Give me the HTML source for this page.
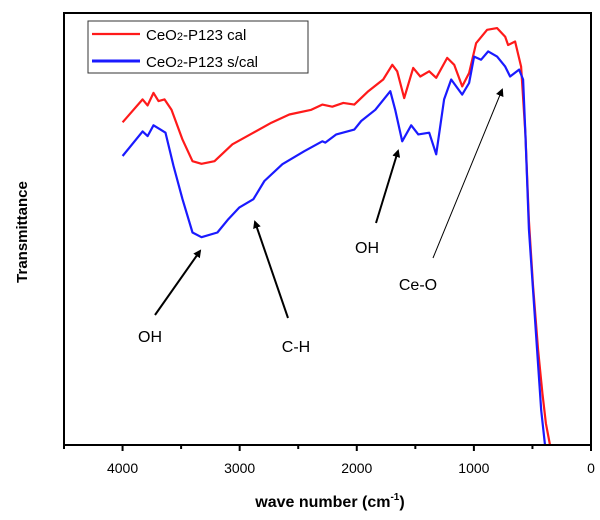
<!DOCTYPE html>
<html><head><meta charset="utf-8"><style>
body{margin:0;background:#fff;width:600px;height:515px;overflow:hidden}
svg text{font-family:"Liberation Sans",Arial,sans-serif}
</style></head><body>
<svg id="chart" width="600" height="515" xmlns="http://www.w3.org/2000/svg">
<defs><marker id="ah" markerWidth="8" markerHeight="8" refX="6" refY="4" orient="auto" markerUnits="userSpaceOnUse"><path d="M0,0 L8,4 L0,8 z" fill="#000"/></marker></defs>
<g id="plot"></g>
<g><text x="330" y="507" text-anchor="middle" font-size="16" font-weight="bold">wave number (cm<tspan font-size="10" dy="-7">-1</tspan><tspan dy="7">)</tspan></text></g>
<text transform="translate(27,232) rotate(-90)" text-anchor="middle" font-size="15" font-weight="bold">Transmittance</text>
<g>
<rect x="88" y="21" width="220" height="52" fill="#fff" stroke="#333" stroke-width="1"/>
<line x1="92" y1="34" x2="140" y2="34" stroke="#ff1a1a" stroke-width="2.2"/>
<text x="146" y="40" font-size="15">CeO<tspan font-size="11">2</tspan>-P123 cal</text>
<line x1="92" y1="61" x2="140" y2="61" stroke="#1a1aff" stroke-width="3"/>
<text x="146" y="67" font-size="15">CeO<tspan font-size="11">2</tspan>-P123 s/cal</text>
</g>
<g>
<line x1="155" y1="315" x2="200" y2="251" stroke="#000" stroke-width="2" marker-end="url(#ah)"/>
<text x="150" y="342" font-size="16" text-anchor="middle">OH</text>
<line x1="288" y1="318" x2="255" y2="222" stroke="#000" stroke-width="2" marker-end="url(#ah)"/>
<text x="296" y="352" font-size="16" text-anchor="middle">C-H</text>
<line x1="376" y1="223" x2="398" y2="151" stroke="#000" stroke-width="2" marker-end="url(#ah)"/>
<text x="367" y="253" font-size="16" text-anchor="middle">OH</text>
<line x1="433" y1="258" x2="502" y2="90" stroke="#000" stroke-width="1" marker-end="url(#ah)"/>
<text x="418" y="290" font-size="16" text-anchor="middle">Ce-O</text>
</g>
</svg>
<script>
const redWn=[4000,3829,3786,3736,3693,3642,3582,3488,3403,3326,3215,3062,2883,2729,2576,2388,2294,2209,2115,2021,1902,1774,1697,1655,1595,1518,1458,1382,1322,1228,1168,1100,1041,981,887,802,733,708,648,597,560,530,495,452,415,385,350];
const redT=[74.7,80.0,78.6,81.5,79.6,80.0,77.6,70.7,65.7,65.1,65.7,69.6,72.3,74.6,76.5,77.6,78.8,78.3,79.2,78.8,81.9,84.6,88.0,86.5,80.3,87.3,85.3,86.5,85.0,89.6,88.0,83.0,86.1,93.0,96.1,96.5,94.5,92.6,93.4,87.6,72.0,52.0,37.0,22.0,12.0,5.0,0];
const blueWn=[4000,3829,3786,3736,3676,3633,3565,3488,3403,3326,3190,3096,3002,2883,2789,2635,2448,2294,2269,2175,2021,1962,1842,1714,1672,1612,1535,1475,1382,1322,1254,1194,1100,1041,998,938,878,802,733,691,614,580,560,530,495,460,425,393];
const blueT=[66.9,72.6,71.5,74.0,73.0,72.3,64.6,56.9,49.2,48.1,49.2,52.3,55.0,56.9,61.1,65.0,68.0,70.3,70.0,71.9,73.0,75.0,77.6,81.9,77.6,70.3,74.0,71.9,72.3,67.3,80.0,84.6,81.1,83.8,89.9,89.2,91.1,89.9,87.6,85.3,86.9,84.6,72.0,50.0,36.0,22.0,8.0,0];
const xTicks=[4000,3000,2000,1000,0];
const xMinor=[4500,3500,2500,1500,500];
const L=64,R=591,T=13,B=445;
const xS=v=>L+(4500-v)/4500*(R-L);
const yS=v=>B-v/100*(B-T);
const NS="http://www.w3.org/2000/svg";
const g=document.getElementById('plot');
function el(t,a,txt){const e=document.createElementNS(NS,t);for(const k in a)e.setAttribute(k,a[k]);if(txt!==undefined)e.textContent=txt;g.appendChild(e);return e;}
function series(wn,tv,color,name){
 let d=wn.map((w,i)=>(i?'L':'M')+xS(w).toFixed(1)+','+yS(tv[i]).toFixed(1)).join(' ');
 const p=el('path',{d:d,fill:'none',stroke:color,'stroke-width':2.2,'stroke-linejoin':'round'});
 
 
}
series(redWn,redT,'#ff1a1a','series-cal');
series(blueWn,blueT,'#1a1aff','series-scal');
const fr=el('rect',{x:L,y:T,width:R-L,height:B-T,fill:'none',stroke:'#000','stroke-width':2});


xTicks.forEach(v=>{
 const t=el('line',{x1:xS(v),x2:xS(v),y1:B,y2:B+6,stroke:'#000','stroke-width':2});
 
 
 const l=el('text',{x:xS(v),y:B+28,'text-anchor':'middle','font-size':14},String(v));
 
 
});
xMinor.forEach(v=>{
 const t=el('line',{x1:xS(v),x2:xS(v),y1:B,y2:B+4,stroke:'#000','stroke-width':2});
 
 
});
</script>
</body></html>
